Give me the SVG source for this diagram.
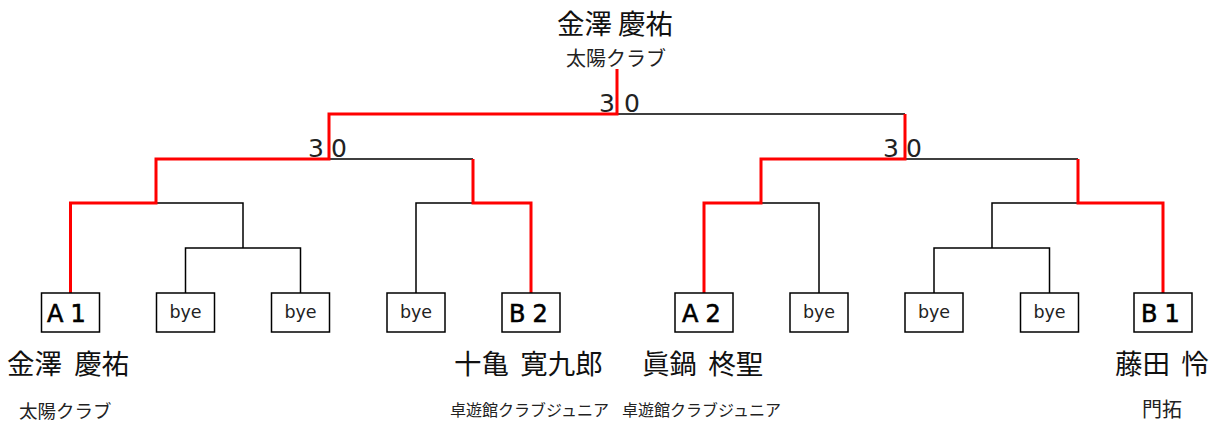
<svg xmlns="http://www.w3.org/2000/svg" width="1218" height="421" viewBox="0 0 1218 421">
<style>
.bx{fill:#fff;stroke:#000;stroke-width:1.5}
.lb{font-family:"DejaVu Sans",sans-serif;font-size:24px;fill:#000;stroke:#000;stroke-width:0.6;letter-spacing:7px}
.bye{font-family:"DejaVu Sans",sans-serif;font-size:17.5px;fill:#222;text-anchor:middle}
.nm{font-family:"Noto Sans CJK JP",sans-serif;font-size:27.5px;fill:#111}
.cl{font-family:"Noto Sans CJK JP",sans-serif;fill:#222}
.sc{font-family:"DejaVu Sans",sans-serif;font-size:25px;fill:#222}
.bk{fill:none;stroke:#000;stroke-width:1.5}
.rd{fill:none;stroke:#f00;stroke-width:3}
</style>
<rect width="1218" height="421" fill="#fff"/>
<g id="connectors">
<path class="bk" d="M185.5 293V248H300.5V293M243 248V203H156M416 293V203H473M329 159H473M617 114H905M761 203H819V293M934 293V248H1049.5V293M992 248V203H1078M905 159H1078"/>
<path class="rd" d="M70.5 293V203H156V159H329V114H617V69"/>
<path class="rd" d="M531 293V203H473V159"/>
<path class="rd" d="M704 293V203H761V159H905V114"/>
<path class="rd" d="M1163 293V203H1078V159"/>
</g>
<g id="scores">
<text class="sc" x="615" y="112" text-anchor="end">3</text>
<text class="sc" x="624" y="112">0</text>
<text class="sc" x="324" y="157" text-anchor="end">3</text>
<text class="sc" x="331" y="157">0</text>
<text class="sc" x="899" y="157" text-anchor="end">3</text>
<text class="sc" x="906" y="157">0</text>
</g>
<g id="champion">
<text class="nm" x="615" y="34" font-size="26" text-anchor="middle">金澤 慶祐</text>
<text class="cl" x="616" y="66" font-size="20" text-anchor="middle">太陽クラブ</text>
</g>
<g id="A1"><rect class="bx" x="41.5" y="293" width="58" height="39"/><text class="lb" x="47" y="322">A1</text></g>
<g id="bye1"><rect class="bx" x="156.5" y="293" width="58" height="39"/><text class="bye" x="185.5" y="318">bye</text></g>
<g id="bye2"><rect class="bx" x="271.5" y="293" width="58" height="39"/><text class="bye" x="300.5" y="318">bye</text></g>
<g id="bye3"><rect class="bx" x="387" y="293" width="58" height="39"/><text class="bye" x="416" y="318">bye</text></g>
<g id="B2"><rect class="bx" x="502" y="293" width="58" height="39"/><text class="lb" x="509" y="322">B2</text></g>
<g id="A2"><rect class="bx" x="675" y="293" width="58" height="39"/><text class="lb" x="682" y="322">A2</text></g>
<g id="bye4"><rect class="bx" x="790" y="293" width="58" height="39"/><text class="bye" x="819" y="318">bye</text></g>
<g id="bye5"><rect class="bx" x="905" y="293" width="58" height="39"/><text class="bye" x="934" y="318">bye</text></g>
<g id="bye6"><rect class="bx" x="1020.5" y="293" width="58" height="39"/><text class="bye" x="1049.5" y="318">bye</text></g>
<g id="B1"><rect class="bx" x="1134" y="293" width="58" height="39"/><text class="lb" x="1141" y="322">B1</text></g>
<g id="players">
<text class="nm" x="7" y="374">金澤 <tspan dx="6">慶祐</tspan></text>
<text class="cl" x="19" y="418" font-size="18.5">太陽クラブ</text>
<text class="nm" x="454" y="374">十亀 <tspan dx="5">寛九郎</tspan></text>
<text class="cl" x="450" y="415.5" font-size="16">卓遊館クラブジュニア</text>
<text class="nm" x="642" y="374">眞鍋 <tspan dx="5">柊聖</tspan></text>
<text class="cl" x="622" y="415.5" font-size="16">卓遊館クラブジュニア</text>
<text class="nm" x="1115" y="374">藤田 <tspan dx="5">怜</tspan></text>
<text class="cl" x="1142" y="417" font-size="20">門拓</text>
</g>
</svg>
